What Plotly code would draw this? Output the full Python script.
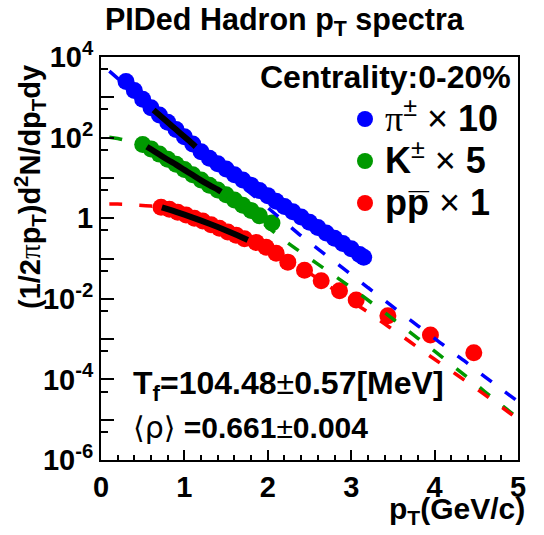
import plotly.graph_objects as go

# ---------------- data (log10 of yield) ----------------
pion_pt = [0.3, 0.4, 0.5, 0.6, 0.7, 0.8, 0.9, 1.0, 1.1, 1.2, 1.3, 1.4, 1.5, 1.6, 1.7,
           1.8, 1.9, 2.0, 2.1, 2.2, 2.3, 2.4, 2.5, 2.6, 2.7, 2.8, 2.9, 3.0, 3.1, 3.15]
pion_log = [3.39, 3.17, 2.95, 2.74, 2.56, 2.38, 2.20, 2.02, 1.84, 1.65, 1.49, 1.35, 1.22, 1.08, 0.95,
            0.82, 0.69, 0.56, 0.42, 0.29, 0.16, 0.03, -0.10, -0.23, -0.37, -0.50, -0.63, -0.76, -0.90, -0.97]

kaon_pt = [0.5, 0.6, 0.7, 0.8, 0.9, 1.0, 1.1, 1.2, 1.3, 1.4, 1.5, 1.6, 1.7, 1.8, 1.9, 2.05]
kaon_log = [1.83, 1.72, 1.59, 1.46, 1.34, 1.21, 1.08, 0.95, 0.82, 0.70, 0.58, 0.45, 0.32, 0.19, 0.06, -0.12]

proton_pt = [0.72, 0.82, 0.92, 1.02, 1.12, 1.22, 1.32, 1.42, 1.52, 1.62, 1.72, 1.86, 1.98, 2.10,
             2.24, 2.44, 2.64, 2.86, 3.06, 3.44, 3.95, 4.47]
proton_log = [0.27, 0.22, 0.15, 0.08, 0.00, -0.07, -0.16, -0.25, -0.34, -0.42, -0.51, -0.60, -0.72, -0.87,
              -1.09, -1.29, -1.55, -1.80, -2.03, -2.42, -2.90, -3.34]

# blast-wave curves (dashed, full range)
pion_fit_pt = [0.1, 0.2, 0.3, 0.4, 0.5, 0.6, 0.7, 0.8, 0.9, 1.0, 1.1, 1.2, 1.4, 1.6, 1.8, 2.0, 2.2, 2.4,
               2.6, 2.8, 3.0, 3.2, 3.4, 3.6, 3.8, 4.0, 4.2, 4.4, 4.6, 4.8, 5.0]
pion_fit_log = [3.65, 3.47, 3.29, 3.11, 2.92, 2.74, 2.56, 2.38, 2.20, 2.02, 1.84, 1.66, 1.31, 0.96, 0.61, 0.26, -0.09, -0.44,
                -0.76, -1.08, -1.40, -1.72, -2.04, -2.36, -2.67, -2.98, -3.30, -3.61, -3.93, -4.24, -4.55]

kaon_fit_pt = [0.1, 0.2, 0.3, 0.4, 0.5, 0.6, 0.7, 0.8, 0.9, 1.0, 1.1, 1.2, 1.3, 1.4, 1.6, 1.8, 2.0, 2.2, 2.4,
               2.6, 2.8, 3.0, 3.2, 3.4, 3.6, 3.8, 4.0, 4.2, 4.4, 4.6, 4.8, 5.0]
kaon_fit_log = [2.01, 1.98, 1.93, 1.88, 1.81, 1.71, 1.58, 1.45, 1.33, 1.20, 1.07, 0.94, 0.82, 0.71, 0.42, 0.11, -0.22, -0.55, -0.85,
                -1.14, -1.43, -1.72, -2.03, -2.34, -2.66, -2.98, -3.30, -3.63, -3.96, -4.30, -4.63, -4.96]

proton_fit_pt = [0.1, 0.2, 0.4, 0.6, 0.73, 0.8, 0.9, 1.0, 1.1, 1.2, 1.3, 1.4, 1.5, 1.6, 1.7, 1.8, 2.0, 2.2, 2.4,
                 2.6, 2.8, 3.0, 3.2, 3.4, 3.6, 3.8, 4.0, 4.2, 4.4, 4.6, 4.8, 5.0]
proton_fit_log = [0.35, 0.35, 0.33, 0.30, 0.27, 0.225, 0.158, 0.089, 0.016, -0.060, -0.139, -0.220, -0.305, -0.393, -0.484, -0.577, -0.78, -1.00, -1.23,
                  -1.50, -1.78, -2.06, -2.33, -2.62, -2.91, -3.21, -3.50, -3.79, -4.08, -4.38, -4.68, -4.99]

# fit ranges (solid black)
pion_range_pt = [0.63, 0.7, 0.8, 0.9, 1.0, 1.1, 1.135]
pion_range_log = [2.685, 2.56, 2.38, 2.20, 2.02, 1.84, 1.774]
kaon_range_pt = [0.55, 0.6, 0.7, 0.8, 0.9, 1.0, 1.1, 1.2, 1.3, 1.4, 1.44]
kaon_range_log = [1.774, 1.71, 1.58, 1.45, 1.33, 1.20, 1.07, 0.94, 0.82, 0.71, 0.658]
proton_range_pt = [0.73, 0.8, 0.9, 1.0, 1.1, 1.2, 1.3, 1.4, 1.5, 1.6, 1.7, 1.76]
proton_range_log = [0.27, 0.225, 0.158, 0.089, 0.016, -0.060, -0.139, -0.220, -0.305, -0.393, -0.484, -0.54]

NORM = "font-weight:normal"
series_names = ["<span style='font-size:36px'>"
                "<span style='font-family:Liberation Serif;" + NORM + "'>π</span>"
                "<span style='" + NORM + "'><sup>±</sup> × </span>10</span>",
                "<span style='font-size:36px'>K<span style='" + NORM + "'><sup>±</sup> × </span>5</span>",
                "<span style='font-size:36px'>pp\u0305"
                "<span style='" + NORM + "'> × </span>1</span>"]
colors = ["#0000ff", "#009900", "#ff0000"]

ytick_vals = [1e-6, 1e-5, 1e-4, 1e-3, 1e-2, 1e-1, 1, 10, 100, 1000, 1e4]
ytick_text = ["10<sup>-6</sup>", "", "10<sup>-4</sup>", "", "10<sup>-2</sup>", "", "1", "", "10<sup>2</sup>", "", "10<sup>4</sup>"]
yminor_vals = [5e-6, 5e-5, 5e-4, 5e-3, 5e-2, 5e-1, 5, 50, 500, 5000]


def pw(v):
    return [10 ** a for a in v]


FONT = "Liberation Sans"
fig = go.Figure()

pts = [(pion_pt, pion_log), (kaon_pt, kaon_log), (proton_pt, proton_log)]
fits = [(pion_fit_pt, pion_fit_log), (kaon_fit_pt, kaon_fit_log), (proton_fit_pt, proton_fit_log)]
rngs = [(pion_range_pt, pion_range_log), (kaon_range_pt, kaon_range_log), (proton_range_pt, proton_range_log)]

for (x, y), name, c in zip(pts, series_names, colors):
    fig.add_trace(go.Scatter(x=x, y=pw(y), mode="markers", name=name,
                             marker=dict(color=c, size=17, line=dict(width=0)), showlegend=True))
for (x, y), c in zip(fits, colors):
    fig.add_trace(go.Scatter(x=x, y=pw(y), mode="lines", showlegend=False,
                             line=dict(color=c, width=3.5, dash="13px,17px", shape="spline")))
for (x, y) in rngs:
    fig.add_trace(go.Scatter(x=x, y=pw(y), mode="lines", showlegend=False,
                             line=dict(color="black", width=6, shape="spline")))

L, R, T, B = 101, 518, 57, 460
W, H = 544, 535


def px(xp):
    return (xp - L) / (R - L)


def py(yp):
    return (B - yp) / (B - T)


fig.update_layout(
    width=W, height=H,
    margin=dict(l=L, r=W - R, t=T, b=H - B),
    paper_bgcolor="white", plot_bgcolor="white",
    font=dict(family=FONT, color="black", size=28, weight="bold"),
    showlegend=True,
    legend=dict(x=px(345), y=py(93), xanchor="left", yanchor="top",
                bgcolor="rgba(0,0,0,0)", font=dict(size=30, family=FONT, weight="bold"),
                itemsizing="trace", tracegroupgap=0),
    xaxis=dict(range=[0, 5], showgrid=False, zeroline=False, showline=True, mirror=True,
               linecolor="black", linewidth=2, ticks="inside", ticklen=10, tickwidth=2,
               tickcolor="black", dtick=1, tick0=0,
               tickfont=dict(size=29, family=FONT, weight="bold"),
               minor=dict(dtick=0.2, ticklen=5, tickwidth=1.5, tickcolor="black", ticks="inside")),
    yaxis=dict(type="log", range=[-6, 4], showgrid=False, zeroline=False, showline=True, mirror=True,
               linecolor="black", linewidth=2, ticks="inside", ticklen=13, tickwidth=2,
               tickcolor="black", tickmode="array", tickvals=ytick_vals, ticktext=ytick_text,
               tickfont=dict(size=29, family=FONT, weight="bold"),
               minor=dict(tickmode="array", tickvals=yminor_vals, ticklen=7, tickwidth=1.5,
                          tickcolor="black", ticks="inside")),
)

ann = [
    dict(text="PIDed Hadron p<sub>T</sub> spectra", x=px(285), y=py(22), size=30.5, xanchor="center"),
    dict(text="Centrality:0-20%", x=px(513), y=py(77), size=32, xanchor="right"),
    dict(text="T<sub>f</sub>=104.48<span style='font-weight:normal'>±</span>0.57[MeV]",
         x=px(131), y=py(385), size=32, xanchor="left"),
    dict(text="<span style='font-family:DejaVu Sans;font-weight:normal'>⟨ρ⟩</span> =0.661"
              "<span style='font-weight:normal'>±</span>0.004",
         x=px(131), y=py(427), size=30, xanchor="left"),
    dict(text="p<sub>T</sub>(GeV/c)", x=px(527), y=py(510), size=30, xanchor="right"),
]
for a in ann:
    fig.add_annotation(text=a["text"], x=a["x"], y=a["y"], xref="paper", yref="paper",
                       xanchor=a["xanchor"], yanchor="middle", showarrow=False,
                       font=dict(size=a["size"], family=FONT, color="black", weight="bold"))

fig.add_annotation(text="(1/2<span style='font-family:Liberation Serif;font-weight:normal'>π</span>p<sub>T</sub>)"
                        "d<sup>2</sup>N/dp<sub>T</sub>dy",
                   x=px(30), y=py(187), xref="paper", yref="paper", textangle=-90,
                   xanchor="center", yanchor="middle", showarrow=False,
                   font=dict(size=29, family=FONT, color="black", weight="bold"))

fig.write_html("out.html")
